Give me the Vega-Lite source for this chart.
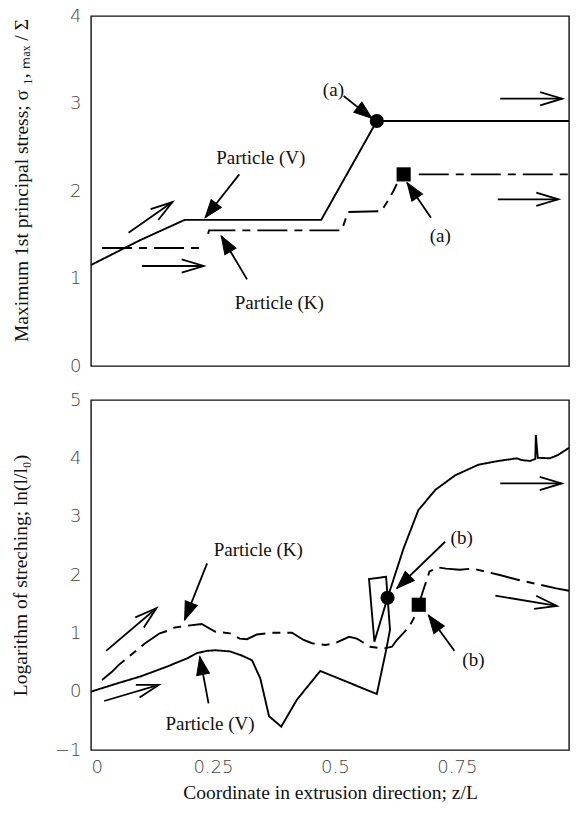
{
  "$schema": "https://vega.github.io/schema/vega-lite/v6.json",
  "padding": {"left": 9, "top": 6, "right": 0, "bottom": 4},
  "spacing": 14,
  "config": {
    "view": {"stroke": "#111", "strokeWidth": 1.4},
    "axis": {"domain": false, "grid": false, "ticks": false, "tickSize": 0, "labelFont": "DejaVu Sans", "labelFontSize": 18, "labelFontWeight": 200, "labelColor": "#444", "titleFont": "Liberation Serif", "titleFontSize": 19.5, "titleFontWeight": "normal", "titleColor": "#111"},
    "text": {"font": "Liberation Serif", "fontSize": 19}
  },
  "datasets": {
    "topLines": [
      {"x": 0, "y": 1.154, "particle": "V", "seg": "V1"},
      {"x": 0.1, "y": 1.436, "particle": "V", "seg": "V1"},
      {"x": 0.192, "y": 1.67, "particle": "V", "seg": "V1"},
      {"x": 0.472, "y": 1.67, "particle": "V", "seg": "V1"},
      {"x": 0.586, "y": 2.8, "particle": "V", "seg": "V1"},
      {"x": 0.98, "y": 2.8, "particle": "V", "seg": "V1"},
      {"x": 0.0225, "y": 1.349, "particle": "K", "seg": "K1"},
      {"x": 0.226, "y": 1.349, "particle": "K", "seg": "K1"},
      {"x": 0.24, "y": 1.51, "particle": "K", "seg": "K2"},
      {"x": 0.242, "y": 1.55, "particle": "K", "seg": "K2"},
      {"x": 0.514, "y": 1.55, "particle": "K", "seg": "K2"},
      {"x": 0.527, "y": 1.76, "particle": "K", "seg": "K2"},
      {"x": 0.595, "y": 1.77, "particle": "K", "seg": "K2"},
      {"x": 0.61, "y": 1.9, "particle": "K", "seg": "K2"},
      {"x": 0.62, "y": 2.0, "particle": "K", "seg": "K2"},
      {"x": 0.627, "y": 2.08, "particle": "K", "seg": "K2"},
      {"x": 0.672, "y": 2.19, "particle": "K", "seg": "K3"},
      {"x": 0.98, "y": 2.19, "particle": "K", "seg": "K3"}
    ],
    "topMarkers": [
      {"x": 0.586, "y": 2.8, "shape": "circle"},
      {"x": 0.641, "y": 2.19, "shape": "square"}
    ],
    "topArrows": [
      {"x": 0.077, "y": 1.523, "x2": 0.167, "y2": 1.874, "head": "open"},
      {"x": 0.1045, "y": 1.143, "x2": 0.231, "y2": 1.143, "head": "open"},
      {"x": 0.304, "y": 2.19, "x2": 0.234, "y2": 1.695, "head": "filled"},
      {"x": 0.32, "y": 0.99, "x2": 0.267, "y2": 1.486, "head": "filled"},
      {"x": 0.839, "y": 3.055, "x2": 0.966, "y2": 3.055, "head": "open"},
      {"x": 0.834, "y": 1.905, "x2": 0.958, "y2": 1.905, "head": "open"},
      {"x": 0.518, "y": 3.086, "x2": 0.576, "y2": 2.83, "head": "filled"},
      {"x": 0.697, "y": 1.695, "x2": 0.648, "y2": 2.095, "head": "filled"}
    ],
    "topTexts": [
      {"x": 0.348, "y": 2.38, "label": "Particle (V)"},
      {"x": 0.386, "y": 0.723, "label": "Particle (K)"},
      {"x": 0.497, "y": 3.16, "label": "(a)"},
      {"x": 0.716, "y": 1.486, "label": "(a)"}
    ],
    "bottomLines": [
      {"i": 1, "x": 0, "y": 0.0, "particle": "V"},
      {"i": 2, "x": 0.053, "y": 0.14, "particle": "V"},
      {"i": 3, "x": 0.101, "y": 0.26, "particle": "V"},
      {"i": 4, "x": 0.156, "y": 0.43, "particle": "V"},
      {"i": 5, "x": 0.197, "y": 0.57, "particle": "V"},
      {"i": 6, "x": 0.217, "y": 0.66, "particle": "V"},
      {"i": 7, "x": 0.238, "y": 0.7, "particle": "V"},
      {"i": 8, "x": 0.255, "y": 0.71, "particle": "V"},
      {"i": 9, "x": 0.285, "y": 0.69, "particle": "V"},
      {"i": 10, "x": 0.309, "y": 0.62, "particle": "V"},
      {"i": 11, "x": 0.33, "y": 0.54, "particle": "V"},
      {"i": 12, "x": 0.347, "y": 0.23, "particle": "V"},
      {"i": 13, "x": 0.365, "y": -0.42, "particle": "V"},
      {"i": 14, "x": 0.39, "y": -0.6, "particle": "V"},
      {"i": 15, "x": 0.422, "y": -0.14, "particle": "V"},
      {"i": 16, "x": 0.47, "y": 0.355, "particle": "V"},
      {"i": 17, "x": 0.586, "y": -0.04, "particle": "V"},
      {"i": 18, "x": 0.605, "y": 0.71, "particle": "V"},
      {"i": 19, "x": 0.613, "y": 1.06, "particle": "V"},
      {"i": 20, "x": 0.605, "y": 1.97, "particle": "V"},
      {"i": 21, "x": 0.57, "y": 1.93, "particle": "V"},
      {"i": 22, "x": 0.581, "y": 0.857, "particle": "V"},
      {"i": 23, "x": 0.608, "y": 1.61, "particle": "V"},
      {"i": 24, "x": 0.641, "y": 2.46, "particle": "V"},
      {"i": 25, "x": 0.671, "y": 3.11, "particle": "V"},
      {"i": 26, "x": 0.706, "y": 3.46, "particle": "V"},
      {"i": 27, "x": 0.747, "y": 3.71, "particle": "V"},
      {"i": 28, "x": 0.794, "y": 3.89, "particle": "V"},
      {"i": 29, "x": 0.835, "y": 3.955, "particle": "V"},
      {"i": 30, "x": 0.873, "y": 4.0, "particle": "V"},
      {"i": 31, "x": 0.883, "y": 3.97, "particle": "V"},
      {"i": 32, "x": 0.9, "y": 3.955, "particle": "V"},
      {"i": 33, "x": 0.911, "y": 3.99, "particle": "V"},
      {"i": 34, "x": 0.912, "y": 4.4, "particle": "V"},
      {"i": 35, "x": 0.916, "y": 4.01, "particle": "V"},
      {"i": 36, "x": 0.941, "y": 4.0, "particle": "V"},
      {"i": 37, "x": 0.958, "y": 4.06, "particle": "V"},
      {"i": 38, "x": 0.98, "y": 4.18, "particle": "V"},
      {"i": 1, "x": 0.0225, "y": 0.2, "particle": "K"},
      {"i": 2, "x": 0.043, "y": 0.34, "particle": "K"},
      {"i": 3, "x": 0.057, "y": 0.46, "particle": "K"},
      {"i": 4, "x": 0.111, "y": 0.83, "particle": "K"},
      {"i": 5, "x": 0.141, "y": 1.0, "particle": "K"},
      {"i": 6, "x": 0.156, "y": 1.04, "particle": "K"},
      {"i": 7, "x": 0.172, "y": 1.1, "particle": "K"},
      {"i": 8, "x": 0.197, "y": 1.13, "particle": "K"},
      {"i": 9, "x": 0.227, "y": 1.16, "particle": "K"},
      {"i": 10, "x": 0.254, "y": 1.03, "particle": "K"},
      {"i": 11, "x": 0.285, "y": 1.0, "particle": "K"},
      {"i": 12, "x": 0.305, "y": 0.91, "particle": "K"},
      {"i": 13, "x": 0.32, "y": 0.9, "particle": "K"},
      {"i": 14, "x": 0.34, "y": 0.98, "particle": "K"},
      {"i": 15, "x": 0.371, "y": 1.01, "particle": "K"},
      {"i": 16, "x": 0.412, "y": 1.01, "particle": "K"},
      {"i": 17, "x": 0.436, "y": 0.886, "particle": "K"},
      {"i": 18, "x": 0.453, "y": 0.83, "particle": "K"},
      {"i": 19, "x": 0.48, "y": 0.8, "particle": "K"},
      {"i": 20, "x": 0.5, "y": 0.83, "particle": "K"},
      {"i": 21, "x": 0.529, "y": 0.94, "particle": "K"},
      {"i": 22, "x": 0.545, "y": 0.91, "particle": "K"},
      {"i": 23, "x": 0.572, "y": 0.77, "particle": "K"},
      {"i": 24, "x": 0.6, "y": 0.74, "particle": "K"},
      {"i": 25, "x": 0.617, "y": 0.77, "particle": "K"},
      {"i": 26, "x": 0.627, "y": 0.886, "particle": "K"},
      {"i": 27, "x": 0.652, "y": 1.11, "particle": "K"},
      {"i": 28, "x": 0.662, "y": 1.26, "particle": "K"},
      {"i": 29, "x": 0.672, "y": 1.49, "particle": "K"},
      {"i": 30, "x": 0.68, "y": 1.71, "particle": "K"},
      {"i": 31, "x": 0.694, "y": 2.06, "particle": "K"},
      {"i": 32, "x": 0.711, "y": 2.13, "particle": "K"},
      {"i": 33, "x": 0.728, "y": 2.11, "particle": "K"},
      {"i": 34, "x": 0.756, "y": 2.09, "particle": "K"},
      {"i": 35, "x": 0.783, "y": 2.11, "particle": "K"},
      {"i": 36, "x": 0.838, "y": 2.0, "particle": "K"},
      {"i": 37, "x": 0.879, "y": 1.91, "particle": "K"},
      {"i": 38, "x": 0.954, "y": 1.77, "particle": "K"},
      {"i": 39, "x": 0.98, "y": 1.73, "particle": "K"}
    ],
    "bottomMarkers": [
      {"x": 0.608, "y": 1.61, "shape": "circle"},
      {"x": 0.672, "y": 1.49, "shape": "square"}
    ],
    "bottomArrows": [
      {"x": 0.031, "y": 0.7, "x2": 0.134, "y2": 1.43, "head": "open"},
      {"x": 0.027, "y": -0.16, "x2": 0.139, "y2": 0.115, "head": "open"},
      {"x": 0.238, "y": 2.2, "x2": 0.192, "y2": 1.23, "head": "filled"},
      {"x": 0.241, "y": -0.2, "x2": 0.223, "y2": 0.6, "head": "filled"},
      {"x": 0.839, "y": 3.57, "x2": 0.965, "y2": 3.57, "head": "open"},
      {"x": 0.829, "y": 1.646, "x2": 0.955, "y2": 1.47, "head": "open"},
      {"x": 0.726, "y": 2.57, "x2": 0.627, "y2": 1.77, "head": "filled"},
      {"x": 0.745, "y": 0.7, "x2": 0.692, "y2": 1.31, "head": "filled"}
    ],
    "bottomTexts": [
      {"x": 0.343, "y": 2.43, "label": "Particle (K)"},
      {"x": 0.244, "y": -0.56, "label": "Particle (V)"},
      {"x": 0.76, "y": 2.63, "label": "(b)"},
      {"x": 0.784, "y": 0.54, "label": "(b)"}
    ]
  },
  "vconcat": [
    {
      "width": 478,
      "height": 350,
      "resolve": {"axis": {"x": "independent", "y": "independent"}},
      "layer": [
        {
          "data": {"name": "topLines"},
          "mark": {"type": "line", "stroke": "black", "strokeWidth": 1.9},
          "encoding": {
            "x": {"field": "x", "type": "quantitative", "axis": null, "scale": {"domain": [0, 0.98], "nice": false, "zero": false}},
            "y": {"field": "y", "type": "quantitative", "scale": {"domain": [0, 4], "nice": false, "zero": false},
              "axis": {"orient": "left", "title": "Maximum  1st principal stress;   σ ₁, ₘₐₓ / Σ", "titlePadding": 38, "titleY": 164, "labelPadding": 10,
                "values": [0, 1, 2, 3, 4], "format": "d"}},
            "detail": {"field": "seg", "type": "nominal"},
            "strokeDash": {"field": "particle", "type": "nominal", "scale": {"domain": ["V", "K"], "range": [[1, 0], [30, 7, 8, 7]]}, "legend": null}
          }
        },
        {
          "data": {"name": "topMarkers"},
          "mark": {"type": "point", "filled": true, "color": "black", "opacity": 1, "size": 200},
          "encoding": {
            "x": {"field": "x", "type": "quantitative", "axis": null, "scale": {"domain": [0, 0.98], "nice": false, "zero": false}},
            "y": {"field": "y", "type": "quantitative", "axis": null, "scale": {"domain": [0, 4], "nice": false, "zero": false}},
            "shape": {"field": "shape", "type": "nominal", "scale": {"domain": ["circle", "square"], "range": ["circle", "square"]}, "legend": null}
          }
        },
        {
          "data": {"name": "topArrows"},
          "mark": {"type": "rule", "stroke": "black", "strokeWidth": 1.8},
          "encoding": {
            "x": {"field": "x", "type": "quantitative", "axis": null, "scale": {"domain": [0, 0.98], "nice": false, "zero": false}},
            "y": {"field": "y", "type": "quantitative", "axis": null, "scale": {"domain": [0, 4], "nice": false, "zero": false}},
            "x2": {"field": "x2"},
            "y2": {"field": "y2"}
          }
        },
        {
          "data": {"name": "topArrows"},
          "transform": [{"filter": "datum.head == 'filled'"}],
          "mark": {"type": "point", "shape": "M0,0L-0.36,1L0.36,1Z", "size": 1296, "filled": true, "fill": "black", "stroke": "black", "strokeWidth": 1, "opacity": 1,
            "angle": {"expr": "atan2((datum.x2-datum.x)*488, (datum.y2-datum.y)*87.5)*180/PI"}},
          "encoding": {
            "x": {"field": "x2", "type": "quantitative", "axis": null, "scale": {"domain": [0, 0.98], "nice": false, "zero": false}},
            "y": {"field": "y2", "type": "quantitative", "axis": null, "scale": {"domain": [0, 4], "nice": false, "zero": false}}
          }
        },
        {
          "data": {"name": "topArrows"},
          "transform": [{"filter": "datum.head == 'open'"}],
          "mark": {"type": "point", "shape": "M-0.3,1L0,0L0.3,1", "size": 1936, "filled": false, "fill": null, "stroke": "black", "strokeWidth": 1.8, "opacity": 1,
            "angle": {"expr": "atan2((datum.x2-datum.x)*488, (datum.y2-datum.y)*87.5)*180/PI"}},
          "encoding": {
            "x": {"field": "x2", "type": "quantitative", "axis": null, "scale": {"domain": [0, 0.98], "nice": false, "zero": false}},
            "y": {"field": "y2", "type": "quantitative", "axis": null, "scale": {"domain": [0, 4], "nice": false, "zero": false}}
          }
        },
        {
          "data": {"name": "topTexts"},
          "mark": {"type": "text", "font": "Liberation Serif", "fontSize": 19, "align": "center", "baseline": "middle", "color": "#111"},
          "encoding": {
            "x": {"field": "x", "type": "quantitative", "axis": null, "scale": {"domain": [0, 0.98], "nice": false, "zero": false}},
            "y": {"field": "y", "type": "quantitative", "axis": null, "scale": {"domain": [0, 4], "nice": false, "zero": false}},
            "text": {"field": "label"}
          }
        }
      ]
    },
    {
      "width": 478,
      "height": 350,
      "resolve": {"axis": {"x": "independent", "y": "independent"}},
      "layer": [
        {
          "data": {"name": "bottomLines"},
          "mark": {"type": "line", "stroke": "black", "strokeWidth": 1.9},
          "encoding": {
            "x": {"field": "x", "type": "quantitative", "scale": {"domain": [0, 0.98], "nice": false, "zero": false},
              "axis": {"orient": "bottom", "title": "Coordinate in extrusion direction; z/L", "titlePadding": 7, "labelPadding": 8,
                "values": [0, 0.25, 0.5, 0.75], "format": ".2~f"}},
            "y": {"field": "y", "type": "quantitative", "scale": {"domain": [-1, 5], "nice": false, "zero": false},
              "axis": {"orient": "left", "title": "Logarithm of streching; ln(l/l₀)", "titlePadding": 24, "labelPadding": 10,
                "values": [-1, 0, 1, 2, 3, 4, 5], "format": "d"}},
            "order": {"field": "i", "type": "quantitative"},
            "strokeDash": {"field": "particle", "type": "nominal", "scale": {"domain": ["V", "K"], "range": [[1, 0], [30, 7, 8, 7]]}, "legend": null}
          }
        },
        {
          "data": {"name": "bottomMarkers"},
          "mark": {"type": "point", "filled": true, "color": "black", "opacity": 1, "size": 200},
          "encoding": {
            "x": {"field": "x", "type": "quantitative", "axis": null, "scale": {"domain": [0, 0.98], "nice": false, "zero": false}},
            "y": {"field": "y", "type": "quantitative", "axis": null, "scale": {"domain": [-1, 5], "nice": false, "zero": false}},
            "shape": {"field": "shape", "type": "nominal", "scale": {"domain": ["circle", "square"], "range": ["circle", "square"]}, "legend": null}
          }
        },
        {
          "data": {"name": "bottomArrows"},
          "mark": {"type": "rule", "stroke": "black", "strokeWidth": 1.8},
          "encoding": {
            "x": {"field": "x", "type": "quantitative", "axis": null, "scale": {"domain": [0, 0.98], "nice": false, "zero": false}},
            "y": {"field": "y", "type": "quantitative", "axis": null, "scale": {"domain": [-1, 5], "nice": false, "zero": false}},
            "x2": {"field": "x2"},
            "y2": {"field": "y2"}
          }
        },
        {
          "data": {"name": "bottomArrows"},
          "transform": [{"filter": "datum.head == 'filled'"}],
          "mark": {"type": "point", "shape": "M0,0L-0.36,1L0.36,1Z", "size": 1296, "filled": true, "fill": "black", "stroke": "black", "strokeWidth": 1, "opacity": 1,
            "angle": {"expr": "atan2((datum.x2-datum.x)*488, (datum.y2-datum.y)*58.33)*180/PI"}},
          "encoding": {
            "x": {"field": "x2", "type": "quantitative", "axis": null, "scale": {"domain": [0, 0.98], "nice": false, "zero": false}},
            "y": {"field": "y2", "type": "quantitative", "axis": null, "scale": {"domain": [-1, 5], "nice": false, "zero": false}}
          }
        },
        {
          "data": {"name": "bottomArrows"},
          "transform": [{"filter": "datum.head == 'open'"}],
          "mark": {"type": "point", "shape": "M-0.3,1L0,0L0.3,1", "size": 1936, "filled": false, "fill": null, "stroke": "black", "strokeWidth": 1.8, "opacity": 1,
            "angle": {"expr": "atan2((datum.x2-datum.x)*488, (datum.y2-datum.y)*58.33)*180/PI"}},
          "encoding": {
            "x": {"field": "x2", "type": "quantitative", "axis": null, "scale": {"domain": [0, 0.98], "nice": false, "zero": false}},
            "y": {"field": "y2", "type": "quantitative", "axis": null, "scale": {"domain": [-1, 5], "nice": false, "zero": false}}
          }
        },
        {
          "data": {"name": "bottomTexts"},
          "mark": {"type": "text", "font": "Liberation Serif", "fontSize": 19, "align": "center", "baseline": "middle", "color": "#111"},
          "encoding": {
            "x": {"field": "x", "type": "quantitative", "axis": null, "scale": {"domain": [0, 0.98], "nice": false, "zero": false}},
            "y": {"field": "y", "type": "quantitative", "axis": null, "scale": {"domain": [-1, 5], "nice": false, "zero": false}},
            "text": {"field": "label"}
          }
        }
      ]
    }
  ]
}
